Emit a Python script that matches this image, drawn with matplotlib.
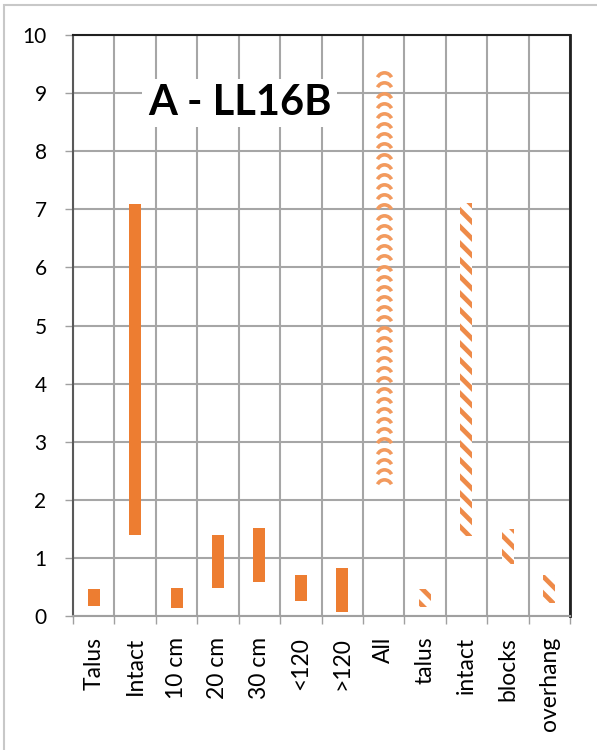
import numpy as np
import matplotlib.pyplot as plt
from matplotlib.patches import Rectangle
from matplotlib.path import Path

plt.rcParams['font.family'] = ['Lato', 'DejaVu Sans']
plt.rcParams['hatch.linewidth'] = 3.4

categories = ['Talus', 'Intact', '10 cm', '20 cm', '30 cm', '<120', '>120',
              'All', 'talus', 'intact', 'blocks', 'overhang']
lows = [0.17, 1.39, 0.14, 0.49, 0.59, 0.26, 0.07, 2.17, 0.16, 1.38, 0.90, 0.23]
highs = [0.46, 7.09, 0.48, 1.39, 1.51, 0.70, 0.83, 9.35, 0.46, 7.10, 1.50, 0.71]
styles = ['solid'] * 7 + ['wave'] + ['stripe'] * 4

orange = '#ED7D31'

fig = plt.figure(figsize=(5.97, 7.5), dpi=100)
ax = fig.add_axes([73 / 597, 1 - 616 / 750, 497 / 597, 581 / 750])

x = list(range(len(categories)))
heights = [h - l for h, l in zip(highs, lows)]
arc = Path.arc(25, 155)
for xi, lo, hi, hgt, st in zip(x, lows, highs, heights, styles):
    if st == 'solid':
        ax.bar(xi, hgt, bottom=lo, width=0.29, color=orange, zorder=3)
    elif st == 'stripe':
        # stripes run from upper left to lower right
        ax.bar(xi, hgt, bottom=lo, width=0.29, facecolor='white',
               edgecolor='#EE8A48', hatch='\\\\', linewidth=0, zorder=3)
    else:
        # wavy fill: stacked arcs inside the bar
        ys = np.arange(lo + 0.05, hi - 0.08, 0.175)
        ax.plot([xi] * len(ys), ys, linestyle='none', marker=arc,
                markersize=11, markeredgewidth=2.6, markerfacecolor='none',
                markeredgecolor='#F29A5E', zorder=3)

ax.set_xlim(-0.5, len(categories) - 0.5)
ax.set_ylim(0, 10)
ax.set_yticks(range(0, 11))
ax.tick_params(axis='y', labelsize=15, length=6, width=1, color='#a0a0a0', pad=13)

# category boundaries carry the tick marks and grid lines, labels sit at centers
ax.set_xticks([i + 0.5 for i in range(-1, len(categories))])
ax.set_xticklabels([])
ax.set_xticks(x, minor=True)
ax.set_xticklabels(categories, minor=True, rotation=90, fontsize=16.5)
ax.tick_params(axis='x', which='major', length=6, width=1, color='#a0a0a0')
ax.tick_params(axis='x', which='minor', length=0, pad=15)

ax.grid(True, which='major', color='#a6a6a6', linewidth=1.5, zorder=0)
ax.set_axisbelow(True)

ax.spines['left'].set_color('#595959')
ax.spines['left'].set_linewidth(1.5)
ax.spines['bottom'].set_color('#a0a0a0')
ax.spines['bottom'].set_linewidth(1.5)
ax.spines['top'].set_color('#202020')
ax.spines['top'].set_linewidth(1.5)
ax.spines['right'].set_color('#202020')
ax.spines['right'].set_linewidth(2)

ax.text(0.335, 0.883, 'A - LL16B', transform=ax.transAxes, ha='center', va='center',
        fontsize=30, fontweight='bold', zorder=5,
        bbox=dict(facecolor='white', edgecolor='none', pad=4))

fig.patches.append(Rectangle((4 / 597, -0.1), 1.2, 1 - 5 / 750 + 0.1,
                             transform=fig.transFigure, fill=False,
                             edgecolor='#c8c8c8', linewidth=1.5))

fig.savefig('out.png', dpi=100)
